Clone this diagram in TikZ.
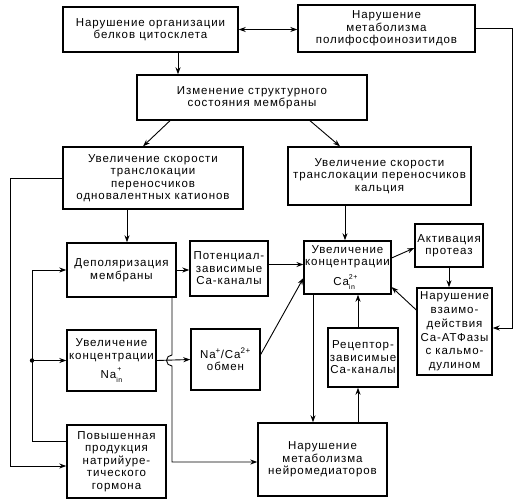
\documentclass[tikz,border=0pt]{standalone}
\usepackage{fontspec}
\setmainfont{Liberation Sans}[LetterSpace=8]
\usetikzlibrary{arrows.meta}
\newcommand{\supsub}[2]{\rlap{\raisebox{6.5pt}{\scriptsize #1}}\raisebox{-4pt}{\scriptsize #2}}
\tikzset{
  blk/.style={draw=black, line width=1.4pt, align=center, inner sep=1pt,
    font=\fontsize{11.5}{12.5}\selectfont},
  conn/.style={draw=black, line width=0.9pt, -{Stealth[length=7pt,width=5pt]}},
}
\begin{document}
\begin{tikzpicture}[x=1pt,y=-1pt]
\useasboundingbox (0,0) rectangle (521,500);
\node[blk, minimum width=175, minimum height=45] (A) at (150.5,29.5) {Нарушение организации\\белков цитосклета};
\node[blk, minimum width=177, minimum height=47] (B) at (386.5,28.5) {Нарушение\\метаболизма\\полифосфоинозитидов};
\node[blk, minimum width=230, minimum height=45] (C) at (252,97.5) {Изменение структурного\\состояния мембраны};
\node[blk, minimum width=180, minimum height=62] (D) at (153,178) {Увеличение скорости\\транслокации\\переносчиков\\одновалентных катионов};
\node[blk, minimum width=183, minimum height=58] (E) at (379.5,176) {Увеличение скорости\\транслокации переносчиков\\кальция};
\node[blk, minimum width=109, minimum height=54] (F) at (121.5,270) {Деполяризация\\мембраны};
\node[blk, minimum width=78, minimum height=55] (G) at (229,268.5) {Потенциал-\\зависимые\\Ca-каналы};
\node[blk, minimum width=85, minimum height=53] (H) at (347.5,267.5) {Увеличение\\концентрации\\[5pt]Ca\supsub{2+}{in}\hphantom{+}};
\node[blk, minimum width=68, minimum height=43] (I) at (449,245.5) {Активация\\протеаз};
\node[blk, minimum width=75, minimum height=87, font=\fontsize{11.5}{13.8}\selectfont] (J) at (454.5,331.5) {Нарушение\\взаимо-\\действия\\Ca-АТФазы\\с кальмо-\\дулином};
\node[blk, minimum width=89, minimum height=61] (K) at (111.5,360.5) {Увеличение\\концентрации\\[5pt]Na\supsub{\,+}{in}};
\node[blk, minimum width=69, minimum height=61] (L) at (225.5,359.5) {Na\textsuperscript{+}/Ca\textsuperscript{2+}\\обмен};
\node[blk, minimum width=70, minimum height=59] (M) at (363,357.5) {Рецептор-\\зависимые\\Ca-каналы};
\node[blk, minimum width=99, minimum height=73] (N) at (116.5,461.5) {Повышенная\\продукция\\натрийуре-\\тического\\гормона};
\node[blk, minimum width=129, minimum height=73] (O) at (322.5,459.5) {Нарушение\\метаболизма\\нейромедиаторов};
% branch point on the left
\coordinate (nk) at (K.west -| 32,0);
\coordinate (jb) at ([yshift=3.5pt]J.east);
% top part
\draw [conn, {Stealth[length=7pt,width=5pt]}-{Stealth[length=7pt,width=5pt]}] (A.east) -- (A.east -| B.west);
\draw [conn] ([xshift=27.5pt]A.south) -- ([xshift=27.5pt]A.south |- C.north);
\draw [conn] ([xshift=-82pt]C.south) -- ([xshift=-10pt]D.north);
\draw [conn] ([xshift=58pt]C.south) -- ([xshift=-39.5pt]E.north);
\draw [conn] (B.east) -- (B.east -| 512,0) |- (jb);
% left loops
\draw [conn] ([xshift=-26pt]D.south) -- ([xshift=-26pt]D.south |- F.north);
\draw [conn] (D.west) -- (D.west -| 10,0) |- ([yshift=-4.5pt]N.west);
\draw [conn] ([yshift=20.5pt]N.west) -- ([yshift=20.5pt]N.west -| nk) |- (F.west);
\fill (nk) circle (2.2pt);
\draw [conn] (nk) -- (K.west);
% middle row
\draw [conn] (F.east) -- (F.east -| G.west);
\draw [conn] ([yshift=4pt]G.east) -- ([yshift=4pt]G.east -| H.west);
\draw [conn] ([xshift=-34.5pt]E.south) -- ([xshift=-34.5pt]E.south |- H.north);
\draw [conn] ([yshift=9.5pt]H.east) -- ([yshift=-2.5pt]I.west);
\draw [conn] (I.south) -- (I.south |- J.north);
\draw [conn] ([yshift=21.5pt]J.west) -- ([yshift=-19.5pt]H.east);
% lower part
\draw [conn] (K.east) -- (L.west);
\draw [conn] ([xshift=50.5pt]F.south) -- (172,355) arc (270:90:5.5) -- (172,462) -- ([yshift=-2.5pt]O.west);
\draw [conn] ([yshift=5pt]L.east) -- ([yshift=-10.5pt]H.west);
\draw [conn] ([xshift=-34.5pt]H.south) -- ([xshift=-34.5pt]H.south |- O.north);
\draw [conn] ([xshift=35.5pt]O.north) -- ([xshift=35.5pt]O.north |- M.south);
\draw [conn] ([xshift=-5pt]M.north) -- ([xshift=-5pt]M.north |- H.south);
\end{tikzpicture}
\end{document}
